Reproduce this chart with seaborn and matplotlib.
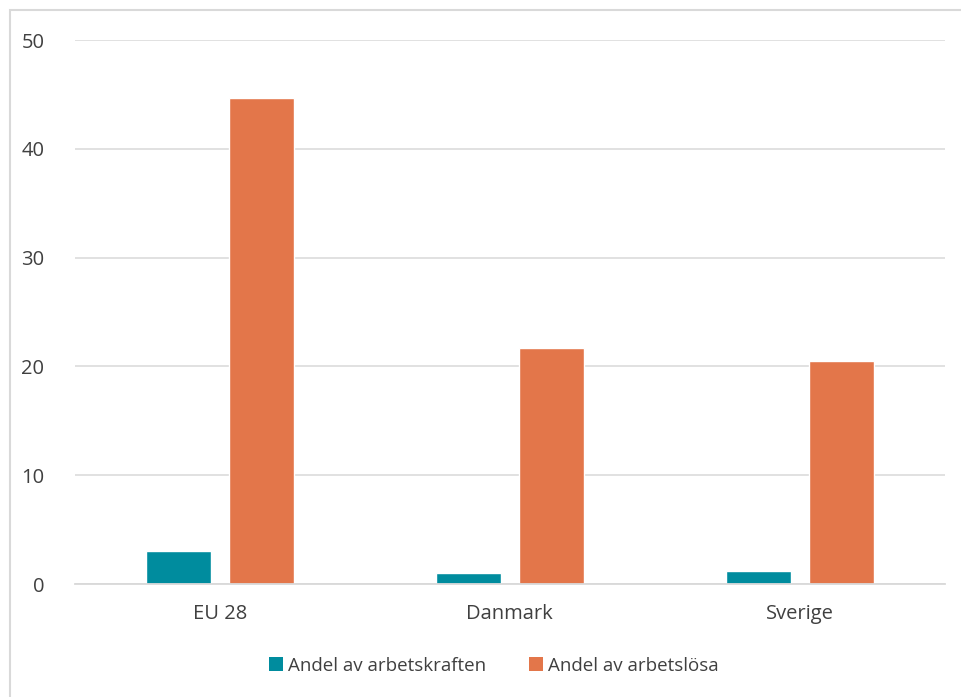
import matplotlib
matplotlib.use("Agg")
import matplotlib.pyplot as plt
import seaborn as sns
import pandas as pd
from matplotlib.patches import Rectangle, Patch

categories = ["EU 28", "Danmark", "Sverige"]
series_names = ["Andel av arbetskraften", "Andel av arbetslösa"]
arbetskraften = [3.0, 1.0, 1.2]
arbetslosa = [44.7, 21.7, 20.5]
yticks = [0, 10, 20, 30, 40, 50]

colors = ["#008C9E", "#E3764A"]

df = pd.DataFrame({
    "land": categories * 2,
    "serie": [series_names[0]] * 3 + [series_names[1]] * 3,
    "varde": arbetskraften + arbetslosa,
})

sns.set_theme(style="white")
plt.rcParams["font.family"] = ["Open Sans", "DejaVu Sans"]

fig = plt.figure(figsize=(9.62, 6.97), dpi=100)
ax = fig.add_axes([0.078, 0.162, 0.904, 0.7806])

sns.barplot(data=df, x="land", y="varde", hue="serie", palette=colors,
            width=0.572, gap=0.217, ax=ax, legend=False, saturation=1)

ax.set_ylim(0, 50)
ax.set_xlim(-0.5, 2.5)
ax.set_yticks(yticks)
ax.set_yticklabels([str(t) for t in yticks])
ax.yaxis.grid(True, color="#D9D9D9", linewidth=1.1)
ax.set_axisbelow(True)
for s in ["left", "right", "top"]:
    ax.spines[s].set_visible(False)
ax.spines["bottom"].set_color("#D9D9D9")
ax.spines["bottom"].set_linewidth(1.3)
ax.tick_params(axis="both", length=0, labelsize=14.5, colors="#404040")
ax.tick_params(axis="x", pad=14)
ax.tick_params(axis="y", pad=22)
ax.set_xlabel("")
ax.set_ylabel("")

handles = [Patch(facecolor=c, edgecolor="none") for c in colors]
fig.legend(handles, series_names, loc="center", bbox_to_anchor=(0.513, 0.045),
           ncol=2, frameon=False, fontsize=13.5, handlelength=0.75, handleheight=0.75,
           handletextpad=0.25, columnspacing=2.3, labelcolor="#404040")

fig.patches.append(Rectangle((10 / 962, -0.01), 1.0, 1 - 10 / 697 + 0.01,
                             transform=fig.transFigure, fill=False,
                             edgecolor="#D9D9D9", linewidth=1.5))

fig.savefig("out.png", dpi=100)
